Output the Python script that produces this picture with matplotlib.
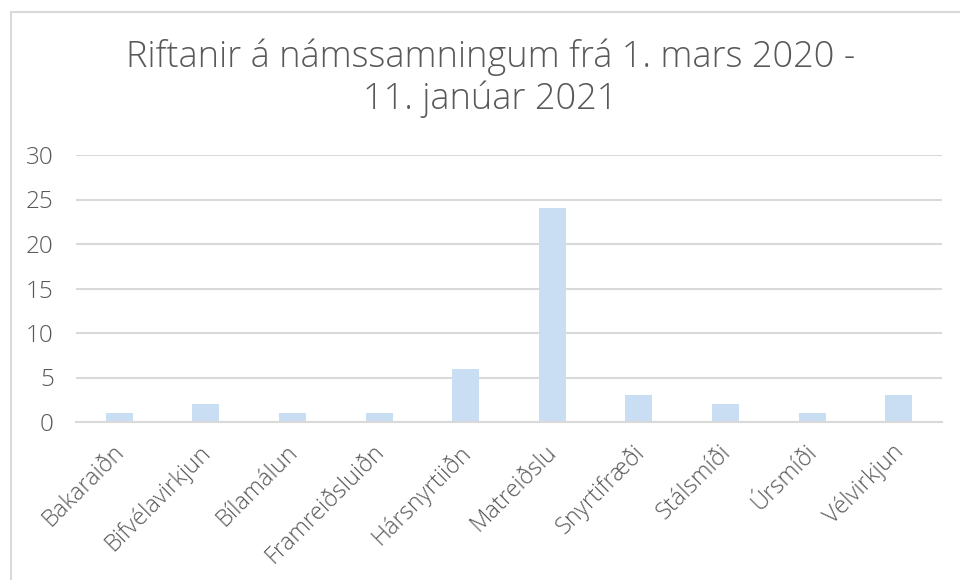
import matplotlib
matplotlib.use("Agg")
import matplotlib.pyplot as plt
from matplotlib.patches import Rectangle
from matplotlib.transforms import ScaledTranslation

# data
categories = ["Bakaraiðn", "Bifvélavirkjun", "Bílamálun", "Framreiðsluiðn", "Hársnyrtiiðn",
              "Matreiðslu", "Snyrtifræði", "Stálsmíði", "Úrsmíði", "Vélvirkjun"]
values = [1, 2, 1, 1, 6, 24, 3, 2, 1, 3]
yticks = [0, 5, 10, 15, 20, 25, 30]
title = "Riftanir á námssamningum frá 1. mars 2020 -\n11. janúar 2021"

plt.rcParams["font.family"] = ["Open Sans", "DejaVu Sans"]
text_color = "#595959"
grid_color = "#d9d9d9"
bar_color = "#c9ddf3"

fig = plt.figure(figsize=(9.6, 5.8), dpi=100)
ax = fig.add_axes([76 / 960, 1 - 422 / 580, (942 - 76) / 960, (422 - 155) / 580])

x = list(range(len(categories)))
ax.bar(x, values, width=0.31, color=bar_color, zorder=3)

ax.set_xlim(-0.5, len(categories) - 0.5)
ax.set_ylim(0, 30)
ax.set_yticks(yticks)
ax.set_yticklabels([str(t) for t in yticks], fontsize=17.5, color=text_color, fontweight="light")
ax.set_xticks(x)
ax.set_xticklabels(categories, rotation=45, ha="right", rotation_mode="anchor",
                   fontsize=17, color=text_color, fontweight="light")
ax.tick_params(axis="both", length=0)
ax.tick_params(axis="y", pad=16)
ax.tick_params(axis="x", pad=13)

# nudge rotated labels left so they end under the bars
shift = ScaledTranslation(-7 / 100, 0, fig.dpi_scale_trans)
for lbl in ax.get_xticklabels():
    lbl.set_transform(lbl.get_transform() + shift)

ax.grid(axis="y", color=grid_color, linewidth=1.5, zorder=0)
for s in ["top", "right", "left"]:
    ax.spines[s].set_visible(False)
ax.spines["bottom"].set_color(grid_color)
ax.spines["bottom"].set_linewidth(1.5)
ax.spines["bottom"].set_zorder(4)

fig.text(0.511, 1 - 78 / 580, title, ha="center", va="center", fontsize=26,
         color=text_color, fontweight="light", linespacing=1.15)

# outer chart border (only top and left visible)
fig.patches.append(Rectangle((11 / 960, -0.2), 1.2, 1.2 - 12 / 580, transform=fig.transFigure,
                             fill=False, edgecolor=grid_color, linewidth=1.5))

fig.savefig("out.png", dpi=100)
